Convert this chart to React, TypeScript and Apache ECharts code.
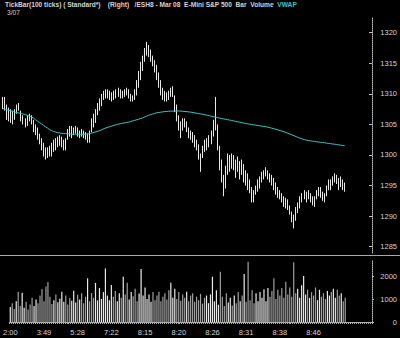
import React, { useEffect, useRef } from "react";
import * as echarts from "echarts";

const timeLabels = ["2:00", "3:49", "5:28", "7:22", "8:15", "8:20", "8:26", "8:31", "8:38", "8:46"];
const barsPerLabel = 17;
const emptySlots = 13;

const highs = [
  1309.5, 1309.5, 1308.25, 1307.75, 1307.5, 1307.25, 1307.5, 1308.25, 1308.5, 1307.25,
  1306.5, 1306, 1306.5, 1306.75, 1306.5, 1305.75, 1305, 1304.5, 1303.5, 1302.75,
  1302, 1301.25, 1301.25, 1301.5, 1302, 1302.5, 1302.75, 1303, 1303.25, 1303,
  1302.5, 1302.75, 1304.25, 1304.75, 1304.75, 1304.5, 1304.75, 1304.5, 1304, 1304.25,
  1304, 1303.75, 1303.5, 1304, 1306, 1306.75, 1307.5, 1308.5, 1309.25, 1310,
  1310.5, 1310.75, 1310.75, 1310.5, 1310.25, 1310.5, 1310.75, 1311, 1310.75, 1310.5,
  1310.75, 1311, 1310.75, 1310, 1309.75, 1310.75, 1312.25, 1313.75, 1315.25, 1316.25,
  1317.5, 1318.5, 1318, 1317.25, 1316.25, 1315.5, 1314.75, 1313.5, 1312.25, 1311,
  1310.5, 1310.25, 1310.5, 1311, 1311.25, 1309.75, 1308.25, 1306.5, 1305.5, 1306,
  1306, 1305.5, 1304.5, 1304, 1303.75, 1303.25, 1302.5, 1301.75, 1300.25, 1301.5,
  1302.5, 1302.75, 1303.25, 1304, 1305.75, 1309.5, 1305, 1301.5, 1299.25, 1296.75,
  1298.25, 1300.25, 1300, 1300.25, 1300, 1299.25, 1299.75, 1299, 1299.25, 1298.5,
  1297.5, 1297, 1296, 1294.75, 1294.25, 1295, 1296, 1296.5, 1297.25, 1297.5,
  1298, 1297.5, 1297, 1296.75, 1296.25, 1295.5, 1294.75, 1294.25, 1293.75, 1293.25,
  1293, 1292.75, 1291.75, 1290.75, 1290.25, 1291.5, 1292.25, 1293.25, 1293.75, 1294.25,
  1294, 1294.25, 1293.75, 1293.25, 1293.25, 1294.25, 1294.75, 1294.75, 1294, 1293.75,
  1295, 1296, 1296, 1296.5, 1297, 1296.75, 1296.25, 1296.5, 1296, 1295.5,
];

const lows = [
  1307.5, 1307.25, 1305.75, 1305.5, 1305.25, 1305, 1305.75, 1306.75, 1307.25, 1305.5,
  1305, 1304.5, 1304.75, 1305.5, 1305, 1303.75, 1303.25, 1302.5, 1301.75, 1300.75,
  1299.75, 1299.25, 1299.5, 1299.75, 1299.75, 1300.5, 1300.75, 1301.25, 1301.5, 1301.25,
  1300.75, 1300.75, 1302.5, 1303, 1302.75, 1303.25, 1303.5, 1303, 1302.75, 1303,
  1302.75, 1302.5, 1302, 1302, 1303.75, 1304.5, 1305.25, 1306.5, 1307.25, 1308,
  1309, 1309.25, 1309.25, 1309, 1308.75, 1309, 1309.25, 1309.5, 1309.25, 1309.25,
  1309.5, 1309.75, 1309.25, 1308.75, 1308.75, 1309, 1309.75, 1311, 1312.25, 1313.75,
  1315.25, 1316.25, 1316, 1315.25, 1314.5, 1313.5, 1312.25, 1311, 1309.75, 1309,
  1308.75, 1308.75, 1309, 1309.5, 1309.5, 1307, 1305.5, 1304, 1302.75, 1304,
  1304.5, 1303.75, 1302.75, 1302.5, 1302, 1301.25, 1300.75, 1299.25, 1297.25, 1299.5,
  1300.5, 1300.75, 1301.25, 1301.75, 1303, 1304, 1300.75, 1297.5, 1295.5, 1293.25,
  1294.5, 1296.75, 1297.25, 1297.75, 1297.5, 1296.25, 1297.25, 1296, 1296.75, 1295.5,
  1295, 1294.25, 1293.75, 1292.25, 1292.25, 1293.5, 1294, 1294.5, 1295.5, 1296,
  1296.5, 1296, 1295.5, 1295, 1294.25, 1293.5, 1293, 1292.75, 1292.25, 1291.5,
  1291.25, 1291, 1290.25, 1289, 1288, 1289.25, 1290.5, 1291.25, 1292.25, 1292.75,
  1292.25, 1292.75, 1292.25, 1291.75, 1291.5, 1292.75, 1293.25, 1293, 1292.5, 1292.25,
  1293.25, 1294.25, 1294.25, 1295, 1295.5, 1295.25, 1294.25, 1294.75, 1294.25, 1294,
];

const closes = [
  1308.5, 1307.75, 1306.5, 1307, 1306, 1305.75, 1307, 1307.75, 1307.5, 1306,
  1305.5, 1305, 1305.75, 1306.25, 1305.25, 1304.5, 1303.75, 1303, 1302.25, 1301.25,
  1300.25, 1299.5, 1300.5, 1300, 1301, 1301.5, 1302, 1302.5, 1302.25, 1301.75,
  1301.25, 1302.25, 1303.75, 1304, 1303.5, 1304, 1303.75, 1303.5, 1303.25, 1303.75,
  1303, 1302.75, 1302.5, 1303.5, 1305.25, 1306, 1307, 1307.75, 1308.75, 1309.5,
  1310, 1310.25, 1309.75, 1309.5, 1309.75, 1310, 1309.75, 1310.5, 1309.75, 1309.5,
  1310.25, 1310.5, 1309.5, 1309.25, 1309, 1310.25, 1311.5, 1312.75, 1314, 1315.5,
  1316.75, 1317.5, 1316.75, 1315.75, 1315, 1314, 1312.75, 1311.5, 1310.25, 1309.5,
  1309.25, 1309.5, 1310, 1310.25, 1309.75, 1307.5, 1306, 1304.75, 1303.5, 1305.25,
  1305, 1304.25, 1303.25, 1303, 1302.5, 1301.75, 1301.25, 1299.75, 1298, 1300.75,
  1301.5, 1302, 1302.5, 1303.5, 1305, 1305.5, 1301.5, 1298.5, 1296.75, 1294.25,
  1297, 1299, 1298.5, 1299.5, 1298.25, 1297, 1298.75, 1296.75, 1298, 1296.25,
  1295.75, 1295, 1294.25, 1293, 1293.5, 1294.5, 1295.25, 1296, 1296.75, 1297,
  1297.25, 1296.5, 1296.25, 1295.5, 1294.75, 1294, 1293.5, 1293.25, 1292.5, 1292,
  1291.75, 1291.5, 1290.5, 1289.5, 1288.75, 1290.75, 1291.75, 1292.75, 1293.25, 1294,
  1293, 1293.75, 1292.75, 1292.25, 1292, 1293.75, 1294.25, 1293.5, 1293, 1292.75,
  1294.5, 1295.5, 1295, 1296, 1296.5, 1295.75, 1295, 1296, 1294.75, 1294,
];

const vwap = [
  1307.6, 1307.5, 1307.4, 1307.3, 1307.2, 1307.1, 1307.0, 1306.95, 1306.85, 1306.8,
  1306.7, 1306.6, 1306.5, 1306.35, 1306.2, 1306.05, 1305.8, 1305.55, 1305.3, 1305.1,
  1304.85, 1304.6, 1304.4, 1304.15, 1304.0, 1303.85, 1303.75, 1303.65, 1303.6, 1303.55,
  1303.5, 1303.5, 1303.45, 1303.45, 1303.4, 1303.4, 1303.4, 1303.4, 1303.4, 1303.4,
  1303.4, 1303.43, 1303.45, 1303.5, 1303.6, 1303.7, 1303.8, 1303.9, 1304.0, 1304.15,
  1304.3, 1304.45, 1304.55, 1304.65, 1304.75, 1304.85, 1304.95, 1305.05, 1305.12, 1305.2,
  1305.25, 1305.3, 1305.38, 1305.45, 1305.55, 1305.65, 1305.75, 1305.85, 1305.95, 1306.05,
  1306.2, 1306.35, 1306.5, 1306.6, 1306.7, 1306.8, 1306.9, 1306.95, 1307.0, 1307.05,
  1307.1, 1307.12, 1307.15, 1307.17, 1307.18, 1307.19, 1307.2, 1307.2, 1307.18, 1307.15,
  1307.12, 1307.08, 1307.04, 1307.0, 1306.95, 1306.88, 1306.82, 1306.75, 1306.7, 1306.65,
  1306.58, 1306.5, 1306.42, 1306.34, 1306.26, 1306.2, 1306.12, 1306.05, 1305.98, 1305.9,
  1305.84, 1305.78, 1305.72, 1305.65, 1305.58, 1305.5, 1305.44, 1305.37, 1305.3, 1305.23,
  1305.16, 1305.1, 1305.03, 1304.98, 1304.93, 1304.88, 1304.83, 1304.78, 1304.73, 1304.68,
  1304.63, 1304.55, 1304.47, 1304.38, 1304.29, 1304.2, 1304.1, 1304.0, 1303.9, 1303.8,
  1303.67, 1303.54, 1303.41, 1303.28, 1303.14, 1303.0, 1302.87, 1302.74, 1302.62, 1302.52,
  1302.44, 1302.38, 1302.32, 1302.27, 1302.22, 1302.17, 1302.12, 1302.08, 1302.04, 1302.0,
  1301.95, 1301.9, 1301.85, 1301.8, 1301.76, 1301.72, 1301.66, 1301.61, 1301.56, 1301.52,
];

const volumes = [
  650, 820, 560, 900, 1320, 700, 1270, 620, 880, 540,
  760, 1050, 700, 980, 820, 1150, 1430, 900, 1540, 1740,
  1100, 780, 950, 1200, 860, 1010, 1320, 880, 1150, 760,
  1040, 920, 1360, 850, 1180, 980, 1250, 820, 1100, 1900,
  900, 1260, 1050, 1700, 940, 1480, 1000, 1300, 2330, 1150,
  950, 1610, 1100, 1350, 900, 1250, 1050, 1970, 1200, 1710,
  980, 1300, 1120, 1450, 900, 1240, 2300, 1150, 1500, 1000,
  1200, 880, 1300, 950, 1150, 1320, 900, 1100, 1250, 980,
  1380, 1710, 1050, 1450, 1000, 1300, 920, 1200, 1050, 1320,
  900, 1150, 1250, 880, 1100, 950, 1220, 800, 1050, 1150,
  820, 1200, 1970, 900, 1380, 750, 2190, 1100, 700, 1250,
  850, 1050, 720, 1150, 820, 1300, 900, 1150, 2090, 880,
  2620, 950, 1380, 820, 1250, 900, 1300, 1050, 1420, 900,
  1480, 1100, 1350, 1900, 1000, 1400, 1150, 1480, 1050, 1750,
  1200, 1500, 1100, 2600, 1250, 1450, 1050, 1600, 2000, 1200,
  1400, 1050, 1300, 1150, 1500, 950, 1400, 1100, 1250, 1000,
  1350, 1150, 1300, 1450, 1050, 1400, 1150, 1250, 900, 1050,
];

const headerMain = "TickBar(100 ticks) ( Standard*)    (Right)   /ESH8 - Mar 08  E-Mini S&P 500  Bar  Volume  ";
const headerVwap = "VWAP";
const dateLabel = "3/07";

const FONT = "'Liberation Sans', Arial, sans-serif";
const TEXT = "#d4d4d4";
const CYAN = "#3cc6c6";

export default function App() {
  const ref = useRef<HTMLDivElement>(null);
  useEffect(() => {
    if (!ref.current) return;
    const chart = echarts.init(ref.current, undefined, { renderer: "svg" });
    const n = closes.length;
    const total = n + emptySlots;
    const categories: string[] = [];
    for (let i = 0; i < total; i++) {
      const k = i / barsPerLabel;
      categories.push(Number.isInteger(k) && k < timeLabels.length ? timeLabels[k] : "");
    }
    const opens = closes.map((c, i) => (i === 0 ? c : closes[i - 1]));
    const ohlc = closes.map((c, i) => [opens[i], c, lows[i], highs[i]]);
    const volData = volumes.map((v, i) => ({
      value: v,
      itemStyle: { color: closes[i] >= opens[i] ? "#eaeaea" : "#a0a0a0" },
    }));
    const last = closes[n - 1];
    const plain = (v: number) => String(Math.round(v));

    chart.setOption({
      animation: false,
      backgroundColor: "#000",
      title: [
        {
          left: 5,
          top: 1,
          padding: 0,
          text: `{w|${headerMain}}{c|${headerVwap}}`,
          textStyle: {
            rich: {
              w: { color: TEXT, fontSize: 6.6, fontFamily: FONT },
              c: { color: CYAN, fontSize: 6.6, fontFamily: FONT },
            },
          },
        },
        {
          left: 7,
          top: 9,
          padding: 0,
          text: dateLabel,
          textStyle: { color: TEXT, fontSize: 6.6, fontFamily: FONT, fontWeight: "normal" },
        },
      ],
      grid: [
        { left: 2, right: 28, top: 17, height: 236 },
        { left: 2, right: 28, top: 260, height: 62 },
      ],
      xAxis: [
        {
          type: "category",
          gridIndex: 0,
          data: categories,
          boundaryGap: true,
          axisLine: { show: false },
          axisTick: { show: false },
          axisLabel: { show: false },
          splitLine: { show: false },
        },
        {
          type: "category",
          gridIndex: 1,
          data: categories,
          boundaryGap: true,
          axisLine: { show: true, lineStyle: { color: "#b0b0b0", width: 1 } },
          axisTick: { show: true, interval: 0, length: 2, lineStyle: { color: "#b0b0b0" } },
          axisLabel: {
            interval: barsPerLabel - 1,
            color: TEXT,
            fontSize: 7.5,
            fontFamily: FONT,
            margin: 6,
            align: "center",
          },
          splitLine: { show: false },
        },
      ],
      yAxis: [
        {
          type: "value",
          gridIndex: 0,
          position: "right",
          min: 1283.97,
          max: 1322.57,
          splitNumber: 8,
          axisLine: { show: true, lineStyle: { color: "#c0c0c0", type: "dotted" } },
          axisTick: { show: true, inside: true, length: 3, lineStyle: { color: "#c0c0c0" } },
          axisLabel: {
            align: "right",
            margin: 25,
            color: TEXT,
            fontSize: 7.5,
            fontFamily: FONT,
            showMinLabel: false,
            showMaxLabel: false,
            formatter: plain,
          },
          splitLine: { show: false },
        },
        {
          type: "value",
          gridIndex: 1,
          position: "right",
          min: 0,
          max: 2696,
          interval: 1000,
          axisLine: { show: true, lineStyle: { color: "#c0c0c0", type: "dotted" } },
          axisTick: { show: true, inside: false, length: 2, lineStyle: { color: "#c0c0c0" } },
          axisLabel: {
            align: "right",
            margin: 25,
            color: TEXT,
            fontSize: 7.5,
            fontFamily: FONT,
            showMaxLabel: false,
            formatter: plain,
          },
          splitLine: { show: false },
        },
      ],
      graphic: [
        {
          type: "line",
          shape: { x1: 0, y1: 255.5, x2: 400, y2: 255.5 },
          style: { stroke: "#a8a8a8", lineWidth: 1 },
          silent: true,
        },
      ],
      series: [
        {
          type: "candlestick",
          xAxisIndex: 0,
          yAxisIndex: 0,
          data: ohlc,
          barWidth: 1,
          itemStyle: {
            color: "#e8e8e8",
            color0: "#e8e8e8",
            borderColor: "#e8e8e8",
            borderColor0: "#e8e8e8",
            borderWidth: 1,
          },
          markLine: {
            silent: true,
            symbol: ["none", "none"],
            lineStyle: { opacity: 0 },
            label: {
              show: true,
              position: "end",
              distance: 2,
              formatter: last.toFixed(2),
              color: TEXT,
              fontSize: 7.2,
              fontFamily: FONT,
              padding: [9, 0, 0, 0],
            },
            data: [{ yAxis: last }],
          },
        },
        {
          type: "line",
          xAxisIndex: 0,
          yAxisIndex: 0,
          data: vwap,
          showSymbol: false,
          symbol: "none",
          lineStyle: { color: CYAN, width: 1 },
          z: 3,
        },
        {
          type: "bar",
          xAxisIndex: 1,
          yAxisIndex: 1,
          data: volData,
          barWidth: 1.2,
        },
      ],
    });
    return () => chart.dispose();
  }, []);
  return (
    <div
      ref={ref}
      style={{ position: "fixed", left: 0, top: 0, width: 400, height: 338, background: "#000" }}
    />
  );
}
